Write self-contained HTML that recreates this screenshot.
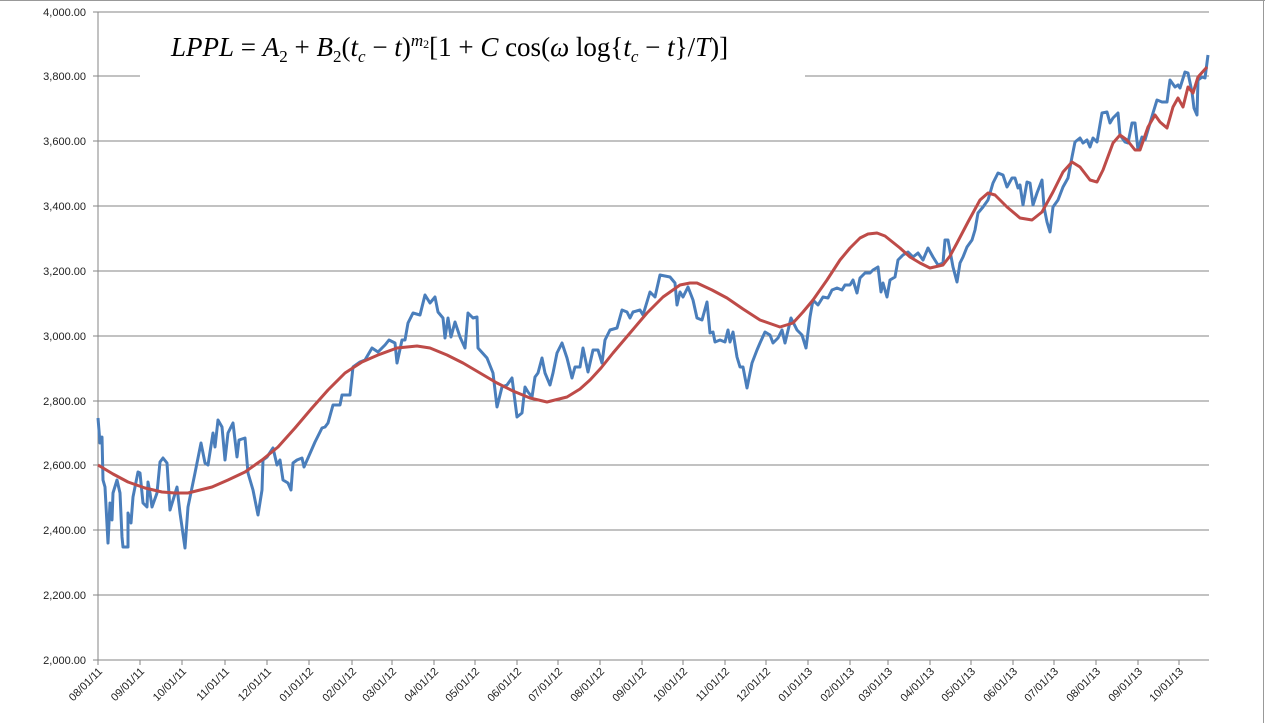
<!DOCTYPE html>
<html><head><meta charset="utf-8"><style>
html,body{margin:0;padding:0;background:#fff;}
#w{position:relative;width:1265px;height:723px;overflow:hidden;background:#fff;}
svg{position:absolute;left:0;top:0;}
#f{position:absolute;left:171px;top:31px;font-family:"Liberation Serif",serif;font-size:27px;color:#000;white-space:nowrap;line-height:32px;}
#f i{font-style:italic;}
#f sub{font-size:17px;vertical-align:-6px;line-height:0;}
#f sup{font-size:17px;vertical-align:10px;line-height:0;}
</style></head><body><div id="w">
<svg width="1265" height="723" viewBox="0 0 1265 723">
<line x1="0" y1="0.5" x2="1265" y2="0.5" stroke="#999" stroke-width="1"/>
<line x1="1263.5" y1="0" x2="1263.5" y2="723" stroke="#999" stroke-width="1"/>
<g stroke="#868686" stroke-width="1" shape-rendering="crispEdges">
<line x1="93" y1="12" x2="1209" y2="12"/>
<line x1="93" y1="76" x2="1209" y2="76"/>
<line x1="93" y1="141" x2="1209" y2="141"/>
<line x1="93" y1="206" x2="1209" y2="206"/>
<line x1="93" y1="271" x2="1209" y2="271"/>
<line x1="93" y1="336" x2="1209" y2="336"/>
<line x1="93" y1="401" x2="1209" y2="401"/>
<line x1="93" y1="465" x2="1209" y2="465"/>
<line x1="93" y1="530" x2="1209" y2="530"/>
<line x1="93" y1="595" x2="1209" y2="595"/>
<line x1="93" y1="660" x2="1209" y2="660"/>
<line x1="98" y1="12" x2="98" y2="665"/>
<line x1="140" y1="660" x2="140" y2="665"/><line x1="182" y1="660" x2="182" y2="665"/><line x1="225" y1="660" x2="225" y2="665"/><line x1="267" y1="660" x2="267" y2="665"/><line x1="309" y1="660" x2="309" y2="665"/><line x1="352" y1="660" x2="352" y2="665"/><line x1="392" y1="660" x2="392" y2="665"/><line x1="434" y1="660" x2="434" y2="665"/><line x1="475" y1="660" x2="475" y2="665"/><line x1="517" y1="660" x2="517" y2="665"/><line x1="558" y1="660" x2="558" y2="665"/><line x1="600" y1="660" x2="600" y2="665"/><line x1="642" y1="660" x2="642" y2="665"/><line x1="683" y1="660" x2="683" y2="665"/><line x1="725" y1="660" x2="725" y2="665"/><line x1="766" y1="660" x2="766" y2="665"/><line x1="808" y1="660" x2="808" y2="665"/><line x1="850" y1="660" x2="850" y2="665"/><line x1="888" y1="660" x2="888" y2="665"/><line x1="930" y1="660" x2="930" y2="665"/><line x1="971" y1="660" x2="971" y2="665"/><line x1="1013" y1="660" x2="1013" y2="665"/><line x1="1054" y1="660" x2="1054" y2="665"/><line x1="1096" y1="660" x2="1096" y2="665"/><line x1="1138" y1="660" x2="1138" y2="665"/><line x1="1179" y1="660" x2="1179" y2="665"/>
</g>
<rect x="140" y="20" width="665" height="75" fill="#fff"/>
<g font-family="Liberation Sans, sans-serif" font-size="11" fill="#222" text-anchor="end">
<text x="86" y="16">4,000.00</text><text x="86" y="80">3,800.00</text><text x="86" y="145">3,600.00</text><text x="86" y="210">3,400.00</text><text x="86" y="275">3,200.00</text><text x="86" y="340">3,000.00</text><text x="86" y="405">2,800.00</text><text x="86" y="469">2,600.00</text><text x="86" y="534">2,400.00</text><text x="86" y="599">2,200.00</text><text x="86" y="664">2,000.00</text>
</g>
<g font-family="Liberation Sans, sans-serif" font-size="11" fill="#222" text-anchor="end">
<text transform="translate(103,672) rotate(-45)">08/01/11</text>
<text transform="translate(145,672) rotate(-45)">09/01/11</text>
<text transform="translate(187,672) rotate(-45)">10/01/11</text>
<text transform="translate(230,672) rotate(-45)">11/01/11</text>
<text transform="translate(272,672) rotate(-45)">12/01/11</text>
<text transform="translate(314,672) rotate(-45)">01/01/12</text>
<text transform="translate(357,672) rotate(-45)">02/01/12</text>
<text transform="translate(397,672) rotate(-45)">03/01/12</text>
<text transform="translate(439,672) rotate(-45)">04/01/12</text>
<text transform="translate(480,672) rotate(-45)">05/01/12</text>
<text transform="translate(522,672) rotate(-45)">06/01/12</text>
<text transform="translate(563,672) rotate(-45)">07/01/12</text>
<text transform="translate(605,672) rotate(-45)">08/01/12</text>
<text transform="translate(647,672) rotate(-45)">09/01/12</text>
<text transform="translate(688,672) rotate(-45)">10/01/12</text>
<text transform="translate(730,672) rotate(-45)">11/01/12</text>
<text transform="translate(771,672) rotate(-45)">12/01/12</text>
<text transform="translate(813,672) rotate(-45)">01/01/13</text>
<text transform="translate(855,672) rotate(-45)">02/01/13</text>
<text transform="translate(893,672) rotate(-45)">03/01/13</text>
<text transform="translate(935,672) rotate(-45)">04/01/13</text>
<text transform="translate(976,672) rotate(-45)">05/01/13</text>
<text transform="translate(1018,672) rotate(-45)">06/01/13</text>
<text transform="translate(1059,672) rotate(-45)">07/01/13</text>
<text transform="translate(1101,672) rotate(-45)">08/01/13</text>
<text transform="translate(1143,672) rotate(-45)">09/01/13</text>
<text transform="translate(1184,672) rotate(-45)">10/01/13</text>
</g>
<polyline fill="none" stroke="#4a7ebb" stroke-width="3" stroke-linejoin="round" points="98,418 100,443 102,437 103,480 105,487 108,543 110,503 112,520 113,493 117,480 120,493 122,537 123,547 128,547 128,513 131,523 133,497 138,472 140,473 143,503 147,507 148,482 150,493 152,507 157,493 160,462 163,458 167,463 170,510 174,497 177,487 180,513 185,548 188,507 195,473 201,443 205,463 208,465 213,433 215,447 218,420 222,427 225,460 228,433 233,423 237,457 239,440 245,438 248,473 253,490 258,515 262,490 263,460 267,457 273,448 277,465 280,460 283,480 288,483 291,490 293,463 297,460 302,458 304,467 308,458 315,442 322,428 325,427 328,423 333,405 340,405 342,395 350,395 353,367 360,362 365,360 372,348 378,352 385,345 389,340 395,343 397,363 402,340 405,340 408,323 413,313 420,315 425,295 430,303 435,297 438,312 443,318 445,338 448,318 451,337 455,322 460,337 465,348 468,313 473,318 477,317 478,348 487,358 493,373 497,407 502,387 507,385 512,378 517,417 522,413 525,387 528,392 532,397 535,377 538,373 542,358 545,373 550,385 553,373 557,353 562,343 567,358 572,378 575,367 580,367 583,348 588,372 593,350 598,350 602,363 605,340 610,330 617,328 622,310 627,312 630,318 633,312 640,310 643,315 650,292 655,297 660,275 670,277 675,283 677,305 680,292 683,297 688,287 693,300 697,318 702,320 707,302 710,333 713,332 715,342 720,340 725,342 728,330 730,342 733,332 737,357 740,367 743,367 747,388 752,363 757,350 760,343 765,332 770,335 773,343 778,338 782,330 785,343 791,318 797,330 802,335 806,348 810,317 813,300 818,305 823,297 828,298 832,290 837,288 842,290 845,285 850,285 853,280 857,293 860,278 865,273 870,273 873,270 878,267 881,292 883,283 887,297 890,280 895,277 898,260 903,255 908,252 913,257 918,253 923,260 928,248 933,257 938,265 943,263 945,240 948,240 953,267 957,282 960,263 963,257 967,247 972,240 975,230 978,213 983,207 988,200 993,183 998,173 1003,175 1007,187 1012,178 1015,178 1018,188 1020,185 1023,205 1027,182 1030,183 1033,205 1037,193 1042,180 1044,207 1047,222 1050,232 1053,207 1058,200 1063,187 1068,178 1072,157 1075,142 1080,138 1083,143 1087,140 1090,147 1093,138 1097,142 1102,113 1107,112 1110,123 1113,118 1118,113 1120,135 1125,142 1128,143 1132,123 1135,123 1138,150 1142,137 1145,140 1148,130 1153,113 1157,100 1162,102 1167,102 1170,80 1175,87 1178,85 1180,88 1185,72 1188,73 1192,92 1194,108 1197,115 1198,80 1202,77 1205,78 1208,55"/>
<polyline fill="none" stroke="#be4b48" stroke-width="3" stroke-linejoin="round" points="98,465 113,474 128,482 145,488 162,492 175,493 188,493 200,490 212,487 228,480 245,472 262,460 278,447 295,428 312,408 328,390 345,373 362,362 378,355 397,348 417,346 430,348 447,355 463,363 480,373 497,383 513,391 530,398 547,402 567,397 580,389 590,380 601,368 613,353 630,333 647,313 663,297 680,285 690,283 697,283 712,290 727,298 743,309 760,320 780,327 793,323 803,312 813,300 827,280 840,260 850,248 860,238 868,234 877,233 885,236 890,240 900,248 910,257 920,263 930,268 943,265 950,256 957,243 968,222 980,200 988,193 995,195 1007,207 1020,218 1032,220 1042,212 1053,192 1063,172 1072,162 1080,167 1090,180 1097,182 1103,170 1113,143 1120,135 1127,140 1135,150 1140,150 1148,127 1155,115 1160,122 1167,128 1173,107 1178,98 1183,107 1188,87 1193,93 1198,77 1207,67"/>
</svg>
<div id="f"><i>LPPL</i> = <i>A</i><sub>2</sub> + <i>B</i><sub>2</sub>(<i>t<sub>c</sub></i> − <i>t</i>)<sup><i>m</i><sub style="font-size:12px;vertical-align:-2px">2</sub></sup>[1 + <i>C</i> cos(<i>ω</i> log{<i>t<sub>c</sub></i> − <i>t</i>}/<i>T</i>)]</div>
</div></body></html>
